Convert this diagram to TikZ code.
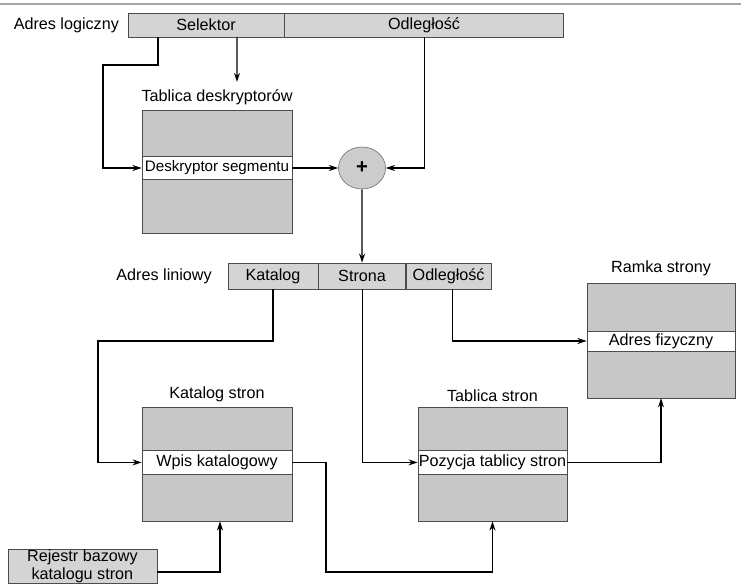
\documentclass[tikz,border=0pt]{standalone}
\usepackage{fontspec}
\setmainfont{Liberation Sans}
\usetikzlibrary{shapes.geometric}
\usetikzlibrary{positioning}
\usetikzlibrary{arrows.meta}
\tikzset{
    barcell/.style = {rectangle, draw=black!70, fill=black!17, minimum height=0.6cm, inner sep=0pt},
    tabbox/.style = {rectangle, draw=black!70, fill=black!22, minimum width=3.75cm, minimum height=2.85cm},
    tabrow/.style = {rectangle, draw=black!70, fill=white, inner sep=0pt},
    plusnode/.style = {ellipse, draw=black!60, fill=black!20, minimum width=1.175cm, minimum height=1.05cm, inner sep=0pt, font=\bfseries\Large},
    lbl/.style = {inner sep=2pt},
    edgen/.style = {-{Stealth[length=2.3mm,width=1.5mm]}, line width=0.8pt},
    every picture/.style={execute at begin picture={\fontsize{11.5}{13}\selectfont}}
}

\begin{document}
\begin{tikzpicture}
\useasboundingbox (0,0) rectangle (18.525,14.6);
\draw[black!35, line width=1.5pt] (0,14.5) -- (18.525,14.5);
% adres logiczny
\node[barcell, minimum width=3.9cm] at (5.15, 13.975) (sel) {Selektor};
\node[barcell, minimum width=6.975cm, anchor=west] at (sel.east) (odl) {Odległość};
\node[lbl, anchor=east] at (3.05, 13.975) (al) {Adres logiczny};
%
\node[tabbox, minimum height=3.075cm] at (5.425, 10.3) (dbox) {};
\node[tabrow, minimum width=3.75cm, minimum height=0.575cm] at (5.425, 10.4) (drow) {\fontsize{10.8}{12}\selectfont Deskryptor segmentu};
\node[lbl, above=0.05cm of dbox] (dlab) {Tablica deskryptorów};
\node[plusnode] at (9.05, 10.4) (plus) {+};
% adres liniowy
\node[barcell, minimum width=2.25cm, minimum height=0.65cm] at (6.825, 7.7) (kat) {Katalog};
\node[barcell, minimum width=2.175cm, minimum height=0.65cm, anchor=west] at (kat.east) (str) {Strona};
\node[barcell, minimum width=2.125cm, minimum height=0.65cm, anchor=west] at (str.east) (odl2) {Odległość};
\node[lbl, anchor=east] at (5.37, 7.7) (ali) {Adres liniowy};
%
\node[tabbox, minimum width=3.7cm, minimum height=2.875cm] at (16.525, 6.09) (rbox) {};
\node[tabrow, minimum width=3.7cm, minimum height=0.5cm] at (16.525, 6.075) (adr) {Adres fizyczny};
\node[lbl, above=0.1cm of rbox] (rlab) {Ramka strony};
%
\node[tabbox] at (5.425, 3.0) (kbox) {};
\node[tabrow, minimum width=3.75cm, minimum height=0.6cm] at (5.425, 3.04) (wpis) {Wpis katalogowy};
\node[lbl, above=0.05cm of kbox] (klab) {Katalog stron};
%
\node[tabbox, minimum width=3.725cm] at (12.3125, 3.0) (tbox) {};
\node[tabrow, minimum width=3.725cm, minimum height=0.6cm] at (12.3125, 3.04) (poz) {Pozycja tablicy stron};
\node[lbl, above=0.05cm of tbox] (tlab) {Tablica stron};
%
\node[barcell, minimum width=3.725cm, minimum height=0.84cm, align=center, inner sep=0.5pt] at (2.06, 0.44) (rej) {Rejestr bazowy\\katalogu stron};
%
\coordinate (k1) at (2.575, 12.975);
\coordinate (k2) at (2.45, 6.075);
\coordinate (k3) at (8.15, 0.3);
\coordinate (k4) at (5.925, 12.55);
\draw[edgen] ([xshift=-1.2cm]sel.south) |- (k1) |- (drow.west);
\draw[edgen] ([xshift=0.775cm]sel.south) -- (k4);
\draw[edgen] ([xshift=0.01cm]odl.south) |- (plus.east);
\draw[edgen] (drow.east) -- (plus.west);
\draw[edgen] (plus.south) -- (str.north);
\draw[edgen] (kat.south) |- (k2) |- (wpis.west);
\draw[edgen] (str.south) |- (poz.west);
\draw[edgen] ([xshift=0.1cm]odl2.south) |- (adr.west);
\draw[edgen] (wpis.east) -| (k3) -| (tbox.south);
\draw[edgen] (poz.east) -| (rbox.south);
\draw[edgen] ([yshift=-0.14cm]rej.east) -| ([xshift=0.075cm]kbox.south);

\end{tikzpicture}
\end{document}
